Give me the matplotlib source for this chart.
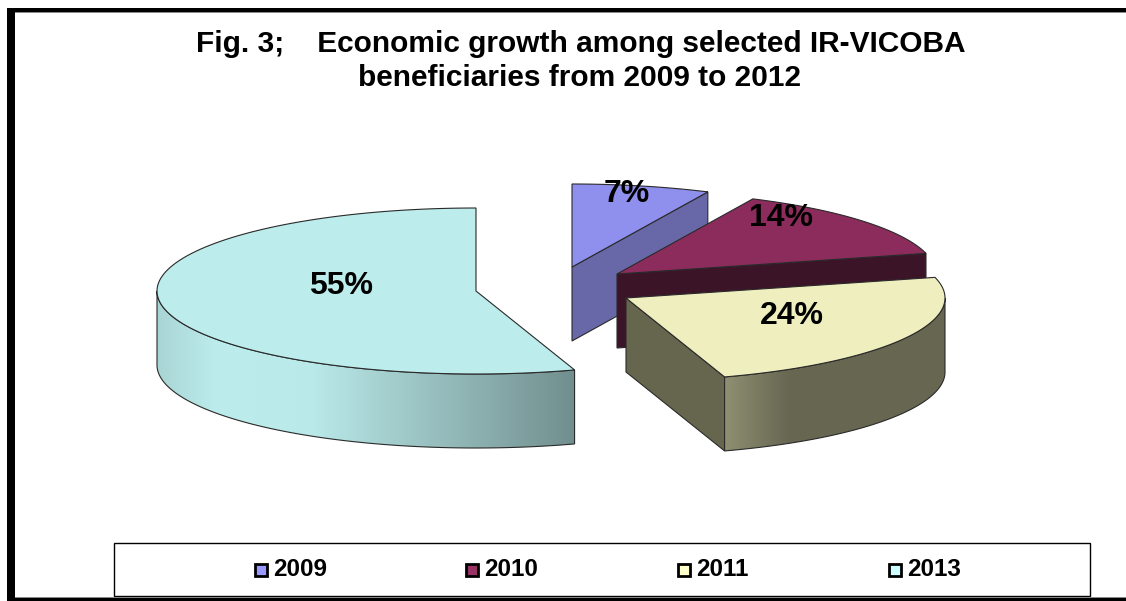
import matplotlib
matplotlib.use("Agg")
import matplotlib.pyplot as plt
import numpy as np
from matplotlib.patches import Polygon, Rectangle
from matplotlib.colors import to_rgb

years = ["2009", "2010", "2011", "2013"]
shares = [7, 14, 24, 55]
labels = ["7%", "14%", "24%", "55%"]

top_colors = ["#8f8fee", "#8b2c5c", "#eeeebe", "#bcecec"]
face_colors = ["#6868a8", "#3c1428", "#66664e", "#7a9a9a"]
key_colors = ["#9999ff", "#993366", "#ffffcc", "#ccffff"]

# pie centre of each exploded slice, in pixels
centers = [(572, 267), (617, 274), (626, 298), (476, 291)]
label_pos = [(627, 194), (781, 218), (792, 316), (341, 286)]
rx, ry, depth = 319, 83, 74
edge = "#2a2a2a"

plt.rcParams["font.family"] = ["Liberation Sans", "DejaVu Sans"]

fig = plt.figure(figsize=(11.26, 6.01), dpi=100)
ax = fig.add_axes([0, 0, 1, 1])
ax.set_xlim(0, 1126)
ax.set_ylim(601, 0)
ax.axis("off")


def rim(cx, cy, a0, a1):
    t = np.radians(np.linspace(a0, a1, 120))
    return np.column_stack([cx + rx * np.sin(t), cy - ry * np.cos(t)])


def wall_shade(color, stops, x0, x1):
    # horizontal gradient strip used for the outer wall of a slice
    xs = np.linspace(x0, x1, 300)
    pos = [s[0] for s in stops]
    amt = [s[1] for s in stops]
    k = np.interp(xs, pos, amt)
    return np.outer(k, np.array(to_rgb(color)))[None, :, :]


def draw_slice(i, a0, a1):
    cx, cy = centers[i]
    top = rim(cx, cy, a0, a1)
    apex = np.array([cx, cy])
    down = np.array([0, depth])

    # the closing cut face looks towards the viewer, except on the last slice
    if i < 3:
        p = rim(cx, cy, a1, a1)[0]
        quad = [apex, p, p + down, apex + down]
        ax.add_patch(Polygon(quad, closed=True, fc=face_colors[i], ec=edge, lw=0.8, zorder=2 + i))

    # outer wall, only where the rim runs along the front
    lo, hi = max(a0, 90), min(a1, 270)
    if hi > lo:
        front = rim(cx, cy, lo, hi)
        wall = np.vstack([front, (front + down)[::-1]])
        if i == 2:
            x0, x1 = 725, 945
            img = wall_shade("#eeeebe", [(725, 0.60), (790, 0.43), (945, 0.43)], x0, x1)
        else:
            x0, x1 = 157, 577
            img = wall_shade("#bcecec", [(157, 0.90), (215, 1.0), (310, 0.99), (577, 0.60)], x0, x1)
        im = ax.imshow(img, extent=[x0, x1, 460, 200], aspect="auto", zorder=2 + i)
        im.set_clip_path(Polygon(wall, closed=True, transform=ax.transData))
        ax.add_patch(Polygon(wall, closed=True, fc="none", ec=edge, lw=0.8, zorder=2 + i))

    ax.add_patch(Polygon(np.vstack([apex, top]), closed=True, fc=top_colors[i],
                         ec=edge, lw=0.8, zorder=2 + i))


angle = 0
for i, share in enumerate(shares):
    sweep = share / sum(shares) * 360
    draw_slice(i, angle, angle + sweep)
    angle += sweep

ax.set_xlim(0, 1126)
ax.set_ylim(601, 0)

for s, pos in zip(labels, label_pos):
    ax.text(pos[0], pos[1], s, fontsize=23, fontweight="bold", ha="center", va="center", zorder=10)

# title lines sit at their own offsets
ax.text(581, 44, "Fig. 3;    Economic growth among selected IR-VICOBA", fontsize=21.5,
        fontweight="bold", ha="center", va="center")
ax.text(580, 78, "beneficiaries from 2009 to 2012", fontsize=21.5,
        fontweight="bold", ha="center", va="center")

# outer frame, open on the right
ax.add_patch(Rectangle((7, 8), 8, 593, fc="black", ec="none", zorder=20))
ax.add_patch(Rectangle((7, 8), 1119, 4, fc="black", ec="none", zorder=20))
ax.add_patch(Rectangle((15, 12), 1111, 1, fc="#888888", ec="none", zorder=20))
ax.add_patch(Rectangle((7, 598), 1119, 3, fc="black", ec="none", zorder=20))
ax.add_patch(Rectangle((15, 597), 1111, 1, fc="#888888", ec="none", zorder=20))

# legend box with its thin grey shadow
ax.add_patch(Rectangle((115, 544), 976, 53, fc="#888888", ec="none", zorder=14))
ax.add_patch(Rectangle((114, 543), 976, 53, fc="white", ec="black", lw=1, zorder=15))
key_x = [261, 472, 684, 895]
for x, year, c in zip(key_x, years, key_colors):
    ax.add_patch(Rectangle((x - 6, 563.5), 12, 12, fc=c, ec="black", lw=2, zorder=16))
    ax.text(x + 12, 569.5, year, fontsize=17.5, fontweight="bold", ha="left", va="center", zorder=16)

fig.savefig("out.png", dpi=100)
